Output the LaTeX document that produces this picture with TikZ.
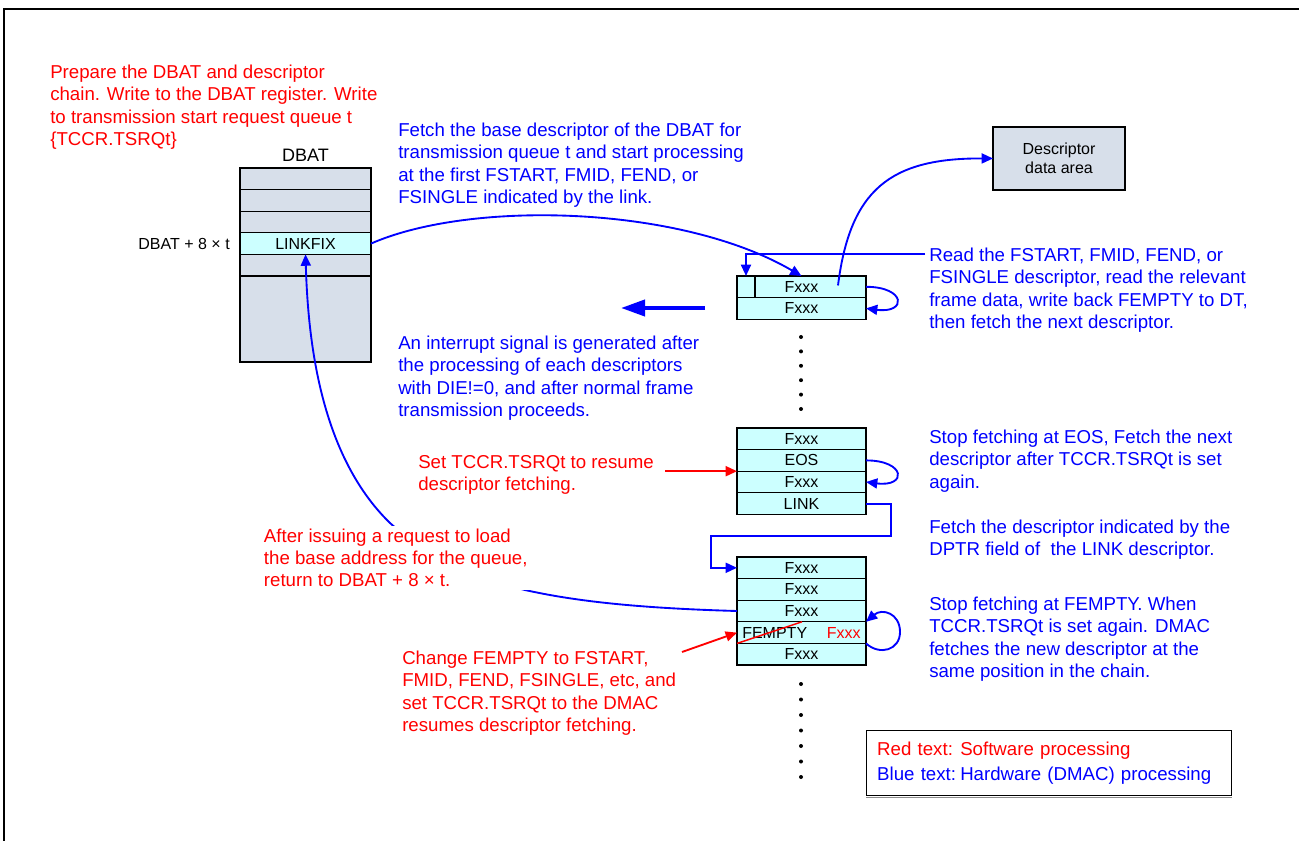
\documentclass[tikz,border=0pt]{standalone}
\usepackage{fontspec}
\setmainfont{Liberation Sans}
\usetikzlibrary{arrows.meta,positioning}
\definecolor{swred}{HTML}{FF0000}
\definecolor{hwblue}{HTML}{0000FF}
\definecolor{tablegray}{HTML}{D7DFEA}
\definecolor{cellcyan}{HTML}{CCFFFF}
\tikzset{
  note/.style={anchor=north west,align=left,inner sep=0pt,font=\fontsize{14}{16.6}\selectfont},
  swnote/.style={note,text=swred},
  hwnote/.style={note,text=hwblue},
  cell/.style={draw,fill=cellcyan,line width=0.8pt,outer sep=0pt,inner sep=0pt,minimum width=96.75pt,minimum height=16.2pt,font=\fontsize{12}{14}\selectfont},
  dbrow/.style={cell,fill=tablegray,minimum width=98.25pt},
  hwarrow/.style={hwblue,line width=1.4pt,-{Triangle[length=8.5pt,width=7.5pt]}},
  swarrow/.style={swred,line width=1.4pt,-{Triangle[length=8.5pt,width=7.5pt]}}
}
\begin{document}
\begin{tikzpicture}[x=0.75pt,y=-0.75pt]
\useasboundingbox (0,0) rectangle (1299,841);
\draw[line width=1.6pt] (4,841)--(4,9)--(1299,9);

\node[dbrow] (d1) at (305.5,178.8) {};
\node[dbrow,below=0pt of d1] (d2) {};
\node[dbrow,below=0pt of d2] (d3) {};
\node[dbrow,below=0pt of d3,fill=cellcyan] (d4) {LINKFIX};
\node[dbrow,below=0pt of d4] (d5) {};
\node[dbrow,below=0pt of d5,minimum height=64.5pt] (d6) {};
\node[above=5pt of d1,inner sep=0pt,font=\fontsize{13.5}{16}\selectfont] (dbat) {DBAT};
\node[left=7.5pt of d4,inner sep=0pt,font=\fontsize{12}{14}\selectfont] (dbatidx) {DBAT + 8 × t};

\node[cell,fill=tablegray,minimum width=99pt,minimum height=47.25pt,align=center,font=\fontsize{12}{14.25}\selectfont] (dscarea) at (1059,158.5) {Descriptor\\data area};

\node[cell] (a1) at (801.5,286.8) {Fxxx};
\node[cell,below=0pt of a1] (a2) {Fxxx};
\draw[line width=0.8pt] ([xshift=13.5pt]a1.north west)--([xshift=13.5pt]a1.south west);

\node[cell] (b1) at (801.5,438.8) {Fxxx};
\node[cell,below=0pt of b1] (b2) {EOS};
\node[cell,below=0pt of b2] (b3) {Fxxx};
\node[cell,below=0pt of b3] (b4) {LINK};

\node[cell] (c1) at (801.5,567.8) {Fxxx};
\node[cell,below=0pt of c1] (c2) {Fxxx};
\node[cell,below=0pt of c2] (c3) {Fxxx};
\node[cell,below=0pt of c3] (c4) {};
\node[cell,below=0pt of c4] (c5) {Fxxx};
\node[anchor=west,inner sep=0pt,font=\fontsize{12}{14}\selectfont] (fempty) at ([xshift=3.75pt]c4.west) {FEMPTY};
\node[anchor=east,inner sep=0pt,text=swred,font=\fontsize{12}{14}\selectfont] (fnew) at ([xshift=-3.75pt]c4.east) {Fxxx};
\draw[swred,line width=1.1pt] (c4.south west)--([xshift=48.75pt]c4.north west);

\foreach \y in {0,...,5} \fill (801,337+14.4*\y) circle (1.5pt);
\foreach \y in {0,...,6} \fill (801,684+15.5*\y) circle (1.5pt);

\coordinate (rdsrc) at ([xshift=-21pt,yshift=1pt]a1.east);
\coordinate (rdtxt) at (925,254);
\coordinate (irqsrc) at (705,308);
\coordinate (irqdst) at (621,308);
\coordinate (tsrq) at ([xshift=-54pt]b2.south west);
\coordinate (chgsrc) at (682,652);

\draw[hwarrow] (d4.east) .. controls (470,200) and (680,205) .. (a1.north);
\draw[hwarrow] (rdsrc) .. controls (850,190) and (890,158) .. (dscarea.west);
\draw[hwarrow] (rdtxt) -| ([xshift=6.75pt]a1.north west);
\draw[hwarrow] (a1.east) .. controls +(30pt,0pt) and +(31pt,-4pt) .. (a2.east);
\draw[hwblue,line width=3pt,-{Triangle[length=18pt,width=12pt]}] (irqsrc) -- (irqdst);
\draw[hwarrow] (b2.east) .. controls +(30pt,0pt) and +(31pt,-4pt) .. (b3.east);
\draw[swarrow] (tsrq) -- (b2.south west);
\draw[hwarrow] (b4.east) -- ++(18.75pt,0) -- ++(0,-24pt) -| ([xshift=-19.5pt]c1.west) -- (c1.west);
\draw[hwarrow] (c4.south east) .. controls (880,656) and (900,650) .. (900,632) .. controls (900,613) and (882,608) .. (c4.north east);
\draw[swarrow] (chgsrc) -- (c4.west);
\draw[hwarrow] (c3.west) .. controls (630,608) and (570,600) .. (525,590) .. controls (470,577) and (420,550) .. (390,523) .. controls (320,455) and (308,340) .. (d4.south);

\node[swnote] (prep) at (50,65) {Prepare the DBAT and descriptor\\chain. Write to the DBAT register. Write\\to transmission start request queue t\\\{TCCR.TSRQt\}};
\node[hwnote] (fetchbase) at (398,123) {Fetch the base descriptor of the DBAT for\\transmission queue t and start processing\\at the first FSTART, FMID, FEND, or\\FSINGLE indicated by the link.};
\node[hwnote] (readdsc) at (929,248) {Read the FSTART, FMID, FEND, or\\FSINGLE descriptor, read the relevant\\frame data, write back FEMPTY to DT,\\then fetch the next descriptor.};
\node[hwnote] (irq) at (398,336) {An interrupt signal is generated after\\the processing of each descriptors\\with DIE!=0, and after normal frame\\transmission proceeds.};
\node[swnote] (resume) at (418,455) {Set TCCR.TSRQt to resume\\descriptor fetching.};
\node[hwnote] (stopeos) at (929,430) {Stop fetching at EOS, Fetch the next\\descriptor after TCCR.TSRQt is set\\again.};
\node[hwnote] (fetchlink) at (929,520) {Fetch the descriptor indicated by the\\DPTR field of\ \ the LINK descriptor.};
\node[swnote,fill=white,inner sep=2pt] (retbase) at (261,526) {After issuing a request to load\\the base address for the queue,\\return to DBAT + 8 × t.};
\node[swnote] (change) at (402,651) {Change FEMPTY to FSTART,\\FMID, FEND, FSINGLE, etc, and\\set TCCR.TSRQt to the DMAC\\resumes descriptor fetching.};
\node[hwnote] (stopempty) at (929,597) {Stop fetching at FEMPTY. When\\TCCR.TSRQt is set again. DMAC\\fetches the new descriptor at the\\same position in the chain.};

\node[draw,line width=0.8pt,anchor=north west,minimum width=273.75pt,minimum height=48.75pt,text width=257.75pt,inner xsep=8pt,align=left,font=\fontsize{14}{18.75}\selectfont] (legend) at (866,730) {\textcolor{swred}{\makebox[62.3pt][l]{Red text:}Software processing}\\\textcolor{hwblue}{\makebox[62.3pt][l]{Blue text:}Hardware (DMAC) processing}};
\draw[black!45,line width=1pt] ([yshift=-1pt]legend.south west)--([yshift=-1pt]legend.south east);
\end{tikzpicture}
\end{document}
